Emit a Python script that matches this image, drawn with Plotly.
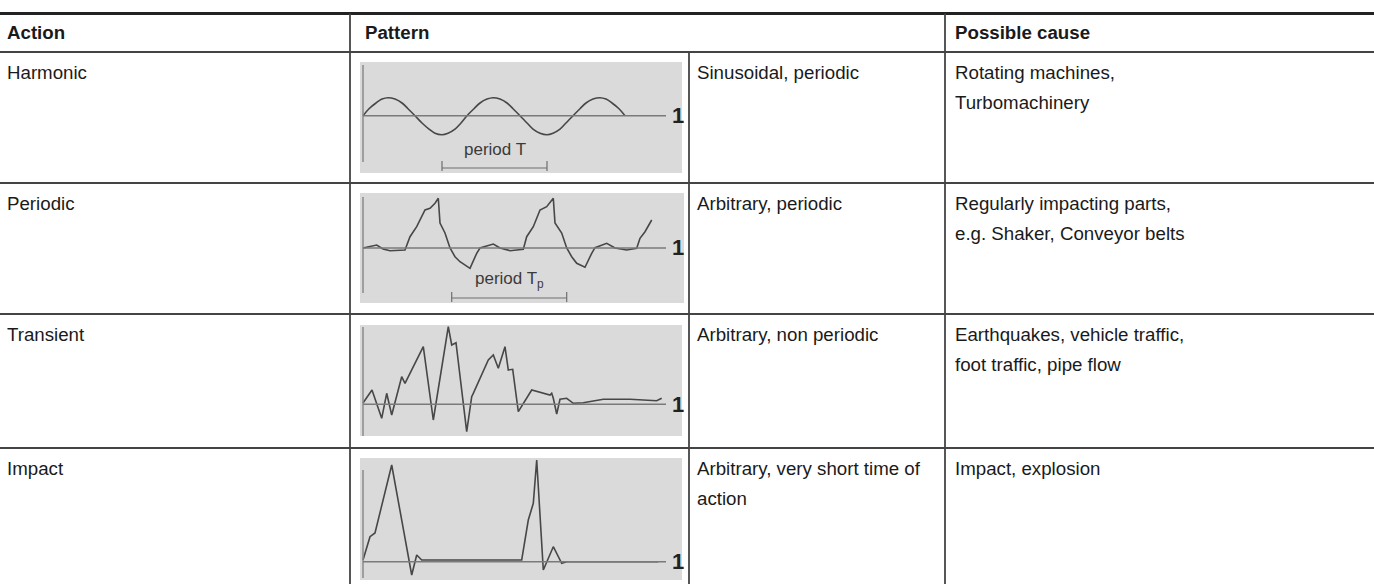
import plotly.graph_objects as go

W, H = 1374, 584

# ---------------- table content ----------------
header_labels = ["Action", "Pattern", "Possible cause"]
actions = ["Harmonic", "Periodic", "Transient", "Impact"]
descriptions = [
    ["Sinusoidal, periodic"],
    ["Arbitrary, periodic"],
    ["Arbitrary, non periodic"],
    ["Arbitrary, very short time of", "action"],
]
causes = [
    ["Rotating machines,", "Turbomachinery"],
    ["Regularly impacting parts,", "e.g. Shaker, Conveyor belts"],
    ["Earthquakes, vehicle traffic,", "foot traffic, pipe flow"],
    ["Impact, explosion"],
]
period_labels = ["period T", "period T<sub>p</sub>", None, None]
level_label = "1"

# ---------------- waveform data (time, amplitude) ----------------
harmonic_t = [0, 6, 13, 19, 25, 32, 39, 45, 52, 59, 66, 72, 79, 85, 92, 98, 104,
              111, 117, 124, 130, 137, 144, 150, 157, 164, 170, 177, 184, 190, 197, 203, 210,
              217, 223, 230, 237, 243, 249, 256, 262]
harmonic_a = [0, 7, 12.7, 16.6, 18, 16.6, 12.7, 7, 0, -7.3, -13.4, -17.5, -19, -17.5, -13.4, -7.3, 0,
              7, 12.7, 16.6, 18, 16.6, 12.7, 7, 0, -7.3, -13.4, -17.5, -19, -17.5, -13.4, -7.3, 0,
              7, 12.7, 16.6, 18, 16.6, 12.7, 7, 0]

periodic_t = [0, 13.7, 20, 27, 42, 47, 53.7, 62, 67, 72, 75.3, 77, 82, 87, 92, 97, 107, 113.7, 117,
              130.3, 137, 147, 160.3, 163.7, 170.3, 177, 183.7, 190.3, 192, 198.7, 203.7, 208.7, 213.7,
              222, 228.7, 232, 243.7, 252, 263.7, 273.7, 277, 282, 288.7]
periodic_a = [0, 3, -1, -2.7, -2, 11.3, 21.3, 38, 39.7, 44.7, 49.7, 25, 15, 0, -8.7, -13.7, -20.3, -5.3, 0,
              4, 0, -2.7, -1.3, 11.3, 21.3, 38, 41.3, 49.7, 25, 15, 0, -8.7, -15.3,
              -19.3, -5.3, 0.3, 4.7, 0, -2, -0.3, 9.7, 16.3, 28]

transient_t = [0, 9, 18.7, 23.7, 28.7, 38.7, 42, 60.3, 70.3, 85.3, 88.7, 93, 103.7, 108.7, 110.3,
               125.3, 130.3, 135.3, 142, 145.3, 149.7, 155.3, 168.7, 187, 188.7, 190.3, 193.7, 197,
               203.7, 210.3, 220.3, 240.3, 267, 293.7, 298.7]
transient_a = [1.3, 14.3, -14, 11, -10.7, 27.6, 21, 57.6, -15.7, 77.6, 59.3, 61.6, -27.4, 7.6, 11,
               44.3, 49.3, 36, 57.6, 34.3, 35, -7.4, 14.3, 9.3, 11, 6, -9.7, 5,
               6, 1, 1.6, 5, 5, 3.6, 6]

impact_t = [0, 7, 12, 28.7, 48.7, 53.7, 58.7, 158.7, 165.3, 170.3, 173.7, 180.3, 190.3, 198.7, 203.7, 295.3]
impact_a = [1.7, 25, 28.7, 96.7, -13.3, 6.7, 1.7, 1.7, 41.7, 58.4, 101.7, -8.3, 15, -1.6, 0, 0]

waves_t = [harmonic_t, periodic_t, transient_t, impact_t]
waves_a = [harmonic_a, periodic_a, transient_a, impact_a]
wave_shapes = ["spline", "linear", "linear", "linear"]

# period markers (start, end in time units)
period_start = [79, 88.7, None, None]
period_end = [184, 203.7, None, None]

# ---------------- layout geometry (pixels) ----------------
ORIGIN_X = 363          # pixel x of each pattern's time axis
BASE_END = 666          # pixel x where the reference line stops
cells = [
    dict(x0=360, x1=682, y0=62, y1=173, base=115.7, ax_top=65, ax_bot=162, bar=168, tick=(161, 171), lab=149.5),
    dict(x0=360, x1=684, y0=193, y1=303, base=248, ax_top=197, ax_bot=293, bar=298, tick=(292, 302), lab=280),
    dict(x0=360, x1=682, y0=325, y1=436, base=404.3, ax_top=327, ax_bot=436),
    dict(x0=360, x1=682, y0=458, y1=580, base=561.7, ax_top=470, ax_bot=578),
]
row_tops = [52, 183, 314, 448]
row_lines = [183, 314, 448]
V_ACT, V_PAT, V_DESC = 350, 689, 945
TEXT_X = [5, 695, 953]
HEADER_X = [5, 363, 953]
FIRST_LINE = 20
LINE_GAP = 30

def px(x):
    return x / W

def py(y):
    return 1 - y / H

BODY_FONT = dict(family="Liberation Sans, Arial, sans-serif", size=18.7, color="#1a1a1a")
SMALL_FONT = dict(family="Liberation Sans Narrow, Arial Narrow, Liberation Sans, sans-serif", size=17, color="#3a3a3a")

fig = go.Figure()
shapes = []
annotations = []
layout_axes = {}

for i, c in enumerate(cells):
    n = "" if i == 0 else str(i + 1)
    xa, ya = "x" + n, "y" + n
    base = c["base"]
    layout_axes["xaxis" + n] = dict(
        domain=[px(c["x0"]), px(c["x1"])], range=[c["x0"] - ORIGIN_X, c["x1"] - ORIGIN_X],
        anchor=ya, showgrid=False, zeroline=False, showticklabels=False, showline=False,
        ticks="", fixedrange=True)
    layout_axes["yaxis" + n] = dict(
        domain=[py(c["y1"]), py(c["y0"])], range=[base - c["y1"], base - c["y0"]],
        anchor=xa, showgrid=False, zeroline=False, showticklabels=False, showline=False,
        ticks="", fixedrange=True)
    # time axis (vertical) and reference line
    shapes.append(dict(type="line", xref=xa, yref=ya, x0=0, x1=0,
                       y0=base - c["ax_bot"], y1=base - c["ax_top"],
                       line=dict(color="#8a8a8a", width=1.5)))
    shapes.append(dict(type="line", xref=xa, yref=ya, x0=0, x1=BASE_END - ORIGIN_X, y0=0, y1=0,
                       line=dict(color="#7a7a7a", width=1.5)))
    fig.add_trace(go.Scatter(
        x=waves_t[i], y=waves_a[i], xaxis=xa, yaxis=ya, mode="lines",
        line=dict(color="#474747", width=1.6, shape=wave_shapes[i]),
        hoverinfo="skip", showlegend=False))
    annotations.append(dict(text="<b>" + level_label + "</b>", xref="paper", yref="paper",
                            x=px(678), y=py(base), xanchor="center", yanchor="middle",
                            showarrow=False,
                            font=dict(family="Liberation Sans Narrow, Liberation Sans, Arial", size=22, color="#222")))
    if period_start[i] is not None:
        s, e = period_start[i], period_end[i]
        lvl = base - c["bar"]
        tlo, thi = base - c["tick"][1], base - c["tick"][0]
        fig.add_trace(go.Scatter(
            x=[s, s, None, s, e, None, e, e], y=[tlo, thi, None, lvl, lvl, None, tlo, thi],
            xaxis=xa, yaxis=ya, mode="lines", line=dict(color="#6e6e6e", width=1.2),
            hoverinfo="skip", showlegend=False))
        annotations.append(dict(text=period_labels[i], xref=xa, yref=ya,
                                x=(s + e) / 2, y=base - c["lab"], xanchor="center", yanchor="middle",
                                showarrow=False, font=SMALL_FONT))

# table rules
shapes.append(dict(type="line", xref="paper", yref="paper", x0=0, x1=1, y0=py(13.5), y1=py(13.5),
                   line=dict(color="#222", width=3)))
shapes.append(dict(type="line", xref="paper", yref="paper", x0=0, x1=1, y0=py(52), y1=py(52),
                   line=dict(color="#444", width=1.8)))
for yl in row_lines:
    shapes.append(dict(type="line", xref="paper", yref="paper", x0=0, x1=1, y0=py(yl), y1=py(yl),
                       line=dict(color="#444", width=1.8)))
for xv, ytop in [(V_ACT, 13.5), (V_PAT, 52), (V_DESC, 13.5)]:
    shapes.append(dict(type="line", xref="paper", yref="paper", x0=px(xv), x1=px(xv),
                       y0=py(ytop), y1=0, line=dict(color="#444", width=1.8)))

# header text
for lab, xx in zip(header_labels, HEADER_X):
    annotations.append(dict(text="<b>" + lab + "</b>", xref="paper", yref="paper", x=px(xx), y=py(33),
                            xanchor="left", yanchor="middle", showarrow=False, font=BODY_FONT))

# body text
for r in range(4):
    y0 = row_tops[r] + FIRST_LINE
    annotations.append(dict(text=actions[r], xref="paper", yref="paper", x=px(TEXT_X[0]), y=py(y0),
                            xanchor="left", yanchor="middle", showarrow=False, font=BODY_FONT))
    for col, lines in [(1, descriptions[r]), (2, causes[r])]:
        for k, t in enumerate(lines):
            annotations.append(dict(text=t, xref="paper", yref="paper", x=px(TEXT_X[col]),
                                    y=py(y0 + k * LINE_GAP), xanchor="left", yanchor="middle",
                                    showarrow=False, font=BODY_FONT))

fig.update_layout(
    width=W, height=H, margin=dict(l=0, r=0, t=0, b=0),
    paper_bgcolor="white", plot_bgcolor="#dadada",
    shapes=shapes, annotations=annotations, showlegend=False,
    **layout_axes,
)
fig.write_html("out.html", config={"displayModeBar": False, "staticPlot": True},
               post_script="document.body.style.margin='0';")
